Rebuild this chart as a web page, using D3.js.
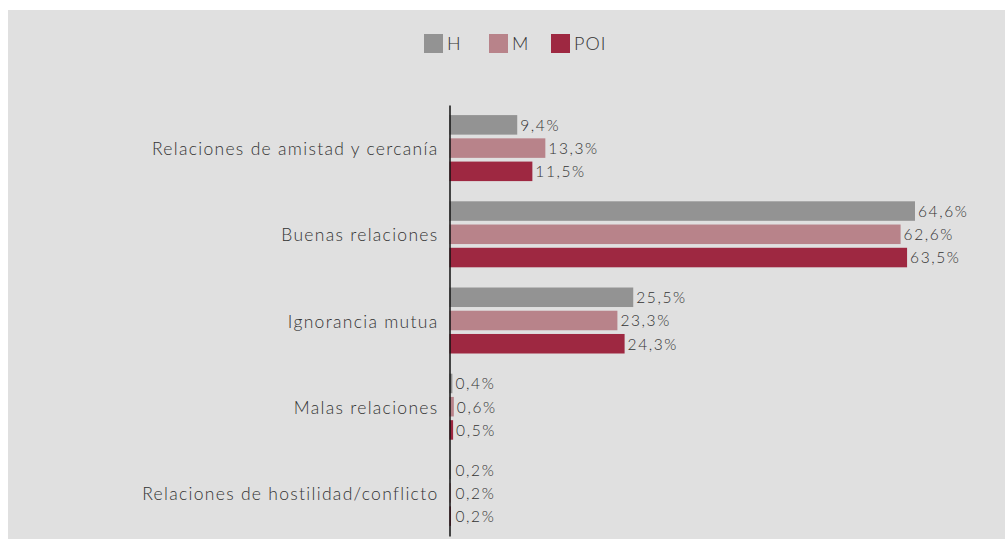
<!DOCTYPE html>
<html>
<head>
<meta charset="utf-8">
<script src="https://cdn.jsdelivr.net/npm/d3@7"></script>
<style>
  html, body { margin: 0; padding: 0; background: #ffffff; }
  svg { display: block; }
  text { font-family: Lato, "Open Sans", sans-serif; font-weight: 300; fill: #333333; }
</style>
</head>
<body>
<svg id="chart" width="1005" height="539"></svg>
<script>
// Categories (top to bottom) and the three series
const categories = [
  "Relaciones de amistad y cercanía",
  "Buenas relaciones",
  "Ignorancia mutua",
  "Malas relaciones",
  "Relaciones de hostilidad/conflicto"
];
const seriesNames = ["H", "M", "POI"];
const valuesH   = [9.4, 64.6, 25.5, 0.4, 0.2];
const valuesM   = [13.3, 62.6, 23.3, 0.6, 0.2];
const valuesPOI = [11.5, 63.5, 24.3, 0.5, 0.2];
const seriesColors = ["#939393", "#b8838a", "#9e2841"];

const allValues = [valuesH, valuesM, valuesPOI];

const svg = d3.select("#chart");

// panel background
svg.append("rect")
  .attr("x", 8).attr("y", 10)
  .attr("width", 997).attr("height", 529)
  .attr("fill", "#e0e0e0");

const x0 = 449.5;
const x = d3.scaleLinear().domain([0, 64.6]).range([x0, 915]);

const y = d3.scaleBand().domain(categories).range([105, 536]).padding(0);
const inner = d3.scaleBand().domain(seriesNames)
  .range([y.bandwidth() / 2 - 33, y.bandwidth() / 2 + 33]).paddingInner(0.16).paddingOuter(0);

// bars + value labels
const rows = [];
categories.forEach((c, i) => {
  seriesNames.forEach((s, j) => {
    rows.push({ cat: c, series: s, value: allValues[j][i], color: seriesColors[j] });
  });
});

const g = svg.append("g");
g.selectAll("rect.bar").data(rows).join("rect")
  .attr("class", "bar")
  .attr("x", x(0))
  .attr("y", d => y(d.cat) + inner(d.series))
  .attr("width", d => Math.max(0, x(d.value) - x(0)))
  .attr("height", inner.bandwidth())
  .attr("fill", d => d.color);

const fmt = v => v.toFixed(1).replace(".", ",") + "%";
g.selectAll("text.val").data(rows).join("text")
  .attr("class", "val")
  .attr("x", d => Math.max(x(d.value), x0 + 3) + 3)
  .attr("y", d => y(d.cat) + inner(d.series) + inner.bandwidth() / 2)
  .attr("dy", "0.38em")
  .attr("font-size", 15.5)
  .attr("letter-spacing", 1.6)
  .text(d => fmt(d.value));

// category axis (drawn over the bars' left edge)
const yAxis = d3.axisLeft(y).tickSize(0).tickPadding(11);
const ax = svg.append("g").attr("transform", `translate(${x0},0)`).call(yAxis);
ax.select(".domain").attr("stroke", "#111").attr("stroke-width", 1.5);
ax.selectAll(".tick text")
  .attr("dy", "0.4em")
  .attr("font-size", 17.5)
  .attr("letter-spacing", 1.3)
  .attr("font-family", "Lato, 'Open Sans', sans-serif")
  .attr("font-weight", 300)
  .attr("fill", "#333333");

// legend
const legendX = [424, 489, 551];
const lg = svg.append("g");
seriesNames.forEach((s, i) => {
  lg.append("rect")
    .attr("x", legendX[i]).attr("y", 34)
    .attr("width", 19).attr("height", 19)
    .attr("fill", seriesColors[i]);
  lg.append("text")
    .attr("x", legendX[i] + 23).attr("y", 43.5)
    .attr("dy", "0.36em")
    .attr("font-size", 18)
    .attr("letter-spacing", 1)
    .text(s);
});
</script>
</body>
</html>
